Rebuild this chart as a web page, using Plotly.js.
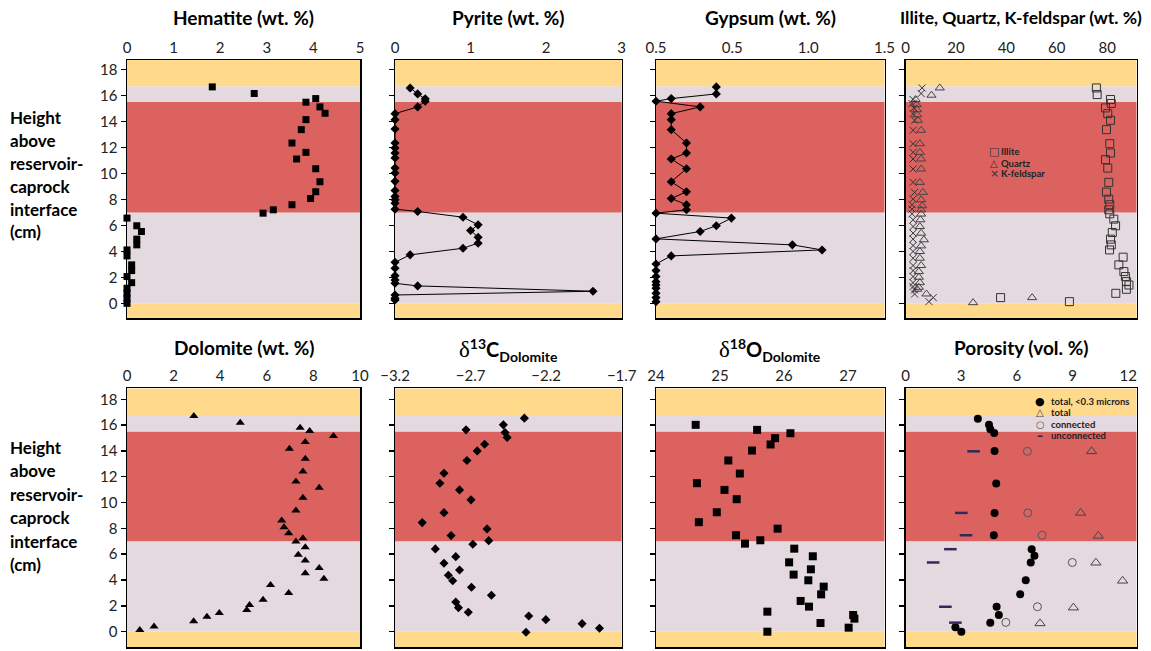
<!DOCTYPE html>
<html><head><meta charset="utf-8">
<script src="https://cdn.plot.ly/plotly-3.0.1.min.js"></script>
<style>html,body{margin:0;padding:0;background:#fff}#chart{width:1151px;height:651px}</style>
</head><body><div id="chart"></div>
<script>
// ---------------- data ----------------
const hemX = [1.83,2.73,4.05,3.84,4.14,4.25,3.84,3.74,3.54,3.84,3.64,4.05,4.14,4.05,3.94,3.54,3.14,2.92,0.0,0.21,0.31,0.21,0.21,0.0,0.0,0.1,0.1,0.0,0.1,0.0,0.0,0.0,0.0];
const hemY = [16.66,16.15,15.76,15.48,15.12,14.63,14.14,13.37,12.34,11.62,11.11,10.36,9.36,8.59,8.07,7.59,7.2,6.94,6.56,5.97,5.53,4.94,4.5,4.11,3.65,2.96,2.52,2.06,1.59,1.16,0.77,0.39,0.0];

const pyrX = [0.2,0.3,0.4,0.4,0.3, 0,0,0,0,0,0,0,0,0,0,0,0,0,0,0, 0.3,0.9,1.1,1.0,1.1,1.1,0.9,0.2, 0,0,0,0,0, 0.3,2.62, 0,0,0];
const pyrY = [16.58,16.12,15.74,15.56,15.12,14.6,14.14,13.42,12.34,11.96,11.57,11.19,10.41,10.03,9.39,8.69,8.23,7.97,7.71,7.25,7.07,6.63,6.04,5.61,5.09,4.63,4.24,3.73,3.16,2.7,2.13,1.8,1.54,1.34,0.93,0.64,0.39,0.26];

const gypX = [0.396,0.396,0.1,0,0.29,0.1,0.1,0.1,0.2,0.2,0.1,0.2,0.1,0.2,0.1,0.2,0.2,0,0.495,0.396,0.29,0,0.895,1.09,0.1,0,0,0,0,0,0,0,0,0];
const gypY = [16.66,16.12,15.76,15.56,15.12,14.6,14.14,13.37,12.34,11.57,11.11,10.36,9.36,8.59,8.07,7.59,7.2,6.94,6.56,5.97,5.53,4.96,4.5,4.11,3.65,3.03,2.52,2.06,1.67,1.41,1.16,0.77,0.44,0.13];

const illX = [75.7,76.0,81.3,81.6,79.3,80.2,81.3,79.7,81.0,81.3,79.3,80.2,80.6,79.7,80.6,81.0,80.6,81.0,82.6,83.3,82.0,81.3,81.6,80.9,86.3,84.6,86.6,87.2,87.6,88.6,87.6,83.4,37.7,65.0];
const illY = [16.58,16.07,15.69,15.38,15.04,14.6,14.09,13.37,12.29,11.57,11.06,10.41,9.31,8.56,8.02,7.59,7.2,6.89,6.48,5.97,5.45,4.94,4.5,4.11,3.55,2.96,2.44,2.06,1.67,1.41,1.08,0.77,0.44,0.13];
const qtzX = [13.6,10.3,4.0,4.4,4.6,4.6,4.9,6.2,5.7,5.7,6.2,6.2,5.7,6.9,6.2,6.6,6.2,6.2,5.9,5.7,6.2,7.3,6.2,5.7,5.7,6.2,5.3,5.3,5.7,5.3,4.6,8.3,26.8,50.2];
const qtzY = [16.58,16.02,15.69,15.3,14.9,14.5,14.09,13.32,12.29,11.62,11.11,10.34,9.31,8.54,7.97,7.51,7.2,6.87,6.43,5.91,5.4,4.89,4.42,3.99,3.47,2.91,2.44,2.01,1.59,1.23,1.08,0.72,0.05,0.44];
const kfsX = [6.6,6.2,3.0,2.6,3.3,3.0,3.6,3.0,3.0,3.0,3.0,3.0,3.0,3.6,3.0,2.6,2.6,2.6,3.0,3.0,3.0,3.0,3.0,3.0,3.0,3.0,3.0,3.0,3.0,3.0,3.6,3.6,11.0,9.3];
const kfsY = [16.58,16.15,15.69,15.38,15.04,14.6,14.09,13.32,12.29,11.62,11.11,10.34,9.31,8.54,8.02,7.59,7.25,6.89,6.43,5.91,5.4,4.94,4.45,3.99,3.47,2.91,2.52,2.06,1.59,1.29,1.03,0.72,0.44,0.13];

const dolX = [2.87,4.86,7.43,7.84,8.86,7.65,6.97,7.65,7.55,7.25,8.25,7.55,7.25,6.64,6.74,6.94,7.55,7.25,7.65,7.35,7.65,8.25,7.65,8.45,6.16,6.94,5.84,5.26,5.14,3.96,3.43,2.86,1.16,0.55];
const dolY = [16.7,16.19,15.8,15.54,15.15,14.69,14.17,13.4,12.41,11.64,11.15,10.37,9.39,8.61,8.09,7.63,7.24,6.98,6.54,5.95,5.51,4.94,4.53,4.09,3.62,3.0,2.48,2.07,1.68,1.45,1.16,0.8,0.41,0.13];

const c13X = [-2.344,-2.483,-2.73,-2.472,-2.458,-2.607,-2.656,-2.724,-2.876,-2.903,-2.773,-2.697,-2.876,-3.02,-2.591,-2.829,-2.58,-2.685,-2.933,-2.798,-2.876,-2.773,-2.847,-2.818,-2.694,-2.562,-2.798,-2.78,-2.715,-2.315,-2.202,-1.962,-1.847,-2.333];
const c13Y = [16.54,16.02,15.63,15.43,15.04,14.52,14.0,13.26,12.27,11.5,10.98,10.21,9.22,8.45,7.96,7.44,7.05,6.77,6.41,5.81,5.3,4.78,4.37,3.95,3.44,2.82,2.3,1.86,1.5,1.21,0.93,0.62,0.26,-0.05];

const o18X = [24.62,25.58,26.1,25.86,25.79,25.5,25.13,25.31,24.64,25.07,25.26,24.95,24.67,25.9,25.25,25.63,25.39,26.16,26.45,26.08,26.42,26.15,26.38,26.62,26.58,26.26,26.39,25.74,27.08,27.1,26.57,27.01,25.74];
const o18Y = [16.02,15.63,15.37,14.99,14.5,14.03,13.26,12.25,11.5,10.98,10.26,9.25,8.48,7.98,7.47,7.08,6.82,6.43,5.84,5.37,4.83,4.42,3.98,3.49,2.89,2.38,1.94,1.55,1.29,1.01,0.67,0.31,0.0];

const porFineX = [3.9,4.5,4.57,4.78,4.8,4.89,4.8,4.76,6.8,6.95,6.75,6.48,6.18,4.91,5.03,4.57,2.69,3.01];
const porFineY = [16.49,16.03,15.67,15.39,13.99,11.47,9.2,7.47,6.39,5.88,5.36,3.99,2.89,1.93,1.29,0.7,0.34,0.0];
const porTotalX = [10.03,9.44,10.39,10.26,11.7,9.05,7.25];
const porTotalY = [13.97,9.2,7.42,5.34,3.94,1.86,0.64];
const porConnX = [6.57,6.59,7.36,8.99,7.11,5.41];
const porConnY = [13.97,9.2,7.47,5.36,1.93,0.72];
const porUnconnX = [3.67,3.01,3.26,2.42,1.49,2.15,2.69];
const porUnconnY = [13.97,9.2,7.47,6.39,5.36,1.93,0.7];

// zone boundaries (cm) and tick labels
const zoneEdges = [0, 7, 15.5, 16.7];
const yTicks = [0,2,4,6,8,10,12,14,16,18];
const hemTicks = [0,1,2,3,4,5];
const pyrTicks = [0,1,2,3];
const gypTicks = [0,0.5,1.0,1.5];
const gypTickText = ["0.5","0.5","1.0","1.5"];
const illTicks = [0,20,40,60,80];
const dolTicks = [0,2,4,6,8,10];
const c13Ticks = [-3.2,-2.7,-2.2,-1.7];
const o18Ticks = [24,25,26,27];
const porTicks = [0,3,6,9,12];

const DELTA = '<span style="font-family:\'Liberation Serif\',serif;font-size:23px">δ</span>';
const panelTitles = [
  '<b>Hematite (wt. %)</b>', '<b>Pyrite (wt. %)</b>', '<b>Gypsum (wt. %)</b>', '<b>Illite, Quartz, K-feldspar (wt. %)</b>',
  '<b>Dolomite (wt. %)</b>',
  DELTA + '<sup><b>13</b></sup><b>C</b><sub><b>Dolomite</b></sub>',
  DELTA + '<sup><b>18</b></sup><b>O</b><sub><b>Dolomite</b></sub>',
  '<b>Porosity (vol. %)</b>'
];
const titleSizes = [19,19,19,17.5,19,20,20,19];
const yLabelLines = ['Height','above','reservoir-','caprock','interface','(cm)'];

// ---------------- layout config ----------------
const W = 1151, H = 651;
const FONT = 'Lato, "Open Sans", sans-serif';
const colPx = [[127,360],[395,621.7],[656,884.5],[905.5,1136.5]];
const rowPx = [[60,318],[388.3,647.3]];
const yRanges = [[-1.13,18.73],[-1.21,18.85]];
const xRanges = [[0,5],[0,3],[0,1.5],[0,91.6],[0,10],[-3.2,-1.7],[24,27.57],[0,12.45]];
const xTickVals = [hemTicks,pyrTicks,gypTicks,illTicks,dolTicks,c13Ticks,o18Ticks,porTicks];
const xTickText = [null,null,gypTickText,null,null,null,null,null];
const YELLOW = '#FFD98C', GREY = '#E3D9DF', RED = '#DC6260';

const layout = {
  width: W, height: H, margin: {l:0,r:0,t:0,b:0},
  paper_bgcolor: '#fff', plot_bgcolor: 'rgba(0,0,0,0)',
  showlegend: false, font: {family: FONT, color: '#222'},
  shapes: [], annotations: []
};

for (let i = 0; i < 8; i++) {
  const row = i < 4 ? 0 : 1, col = i % 4;
  const sfx = i === 0 ? '' : String(i + 1);
  const yr = yRanges[row];
  const xa = {
    domain: [colPx[col][0]/W, colPx[col][1]/W], range: xRanges[i], side: 'top',
    anchor: 'y' + sfx, showline: true, mirror: true, linecolor: '#000', linewidth: 1.5,
    ticks: '', showgrid: false, zeroline: false, tickvals: xTickVals[i],
    tickfont: {size: 15, color: '#222', family: FONT}, fixedrange: true
  };
  if (xTickText[i]) xa.ticktext = xTickText[i];
  const ya = {
    domain: [1 - rowPx[row][1]/H, 1 - rowPx[row][0]/H], range: yr, anchor: 'x' + sfx,
    showline: true, mirror: true, linecolor: '#000', linewidth: 1.5,
    ticks: 'outside', ticklen: 5, tickwidth: 1.5, tickcolor: '#000',
    tickvals: yTicks, showticklabels: col === 0, showgrid: false, zeroline: false,
    tickfont: {size: 15, color: '#222', family: FONT}, fixedrange: true
  };
  layout['xaxis' + sfx] = xa;
  layout['yaxis' + sfx] = ya;

  const bands = [
    [yr[0], zoneEdges[0], YELLOW], [zoneEdges[0], zoneEdges[1], GREY],
    [zoneEdges[1], zoneEdges[2], RED], [zoneEdges[2], zoneEdges[3], GREY],
    [zoneEdges[3], yr[1], YELLOW]
  ];
  bands.forEach(b => layout.shapes.push({
    type: 'rect', xref: 'x' + sfx + ' domain', yref: 'y' + sfx, x0: 0, x1: 1, y0: b[0], y1: b[1],
    fillcolor: b[2], line: {width: 0}, layer: 'below'
  }));

  const cx = (colPx[col][0] + colPx[col][1]) / 2 / W;
  const ty = row === 0 ? 18 : (i === 5 || i === 6 ? 350 : 347);
  layout.annotations.push({
    xref: 'paper', yref: 'paper', x: cx, y: 1 - ty / H, xanchor: 'center', yanchor: 'middle',
    text: panelTitles[i], showarrow: false, font: {size: titleSizes[i], color: '#000', family: FONT}
  });
}

// y axis label (both rows)
[[117, 23], [447, 23.5]].forEach(([y0, dy]) => {
  yLabelLines.forEach((t, k) => layout.annotations.push({
    xref: 'paper', yref: 'paper', x: 8 / W, y: 1 - (y0 + k * dy) / H, xanchor: 'left', yanchor: 'middle',
    text: '<b>' + t + '</b>', showarrow: false, font: {size: 17, color: '#000', family: FONT}
  }));
});

// in-plot keys
function keyItem(sym, symColor, symSize, label, xs, xt, ypx) {
  layout.annotations.push({xref:'paper', yref:'paper', x: xs/W, y: 1 - ypx/H, xanchor:'center', yanchor:'middle',
    text: sym, showarrow:false, font:{size: symSize, color: symColor, family:'DejaVu Sans'}});
  layout.annotations.push({xref:'paper', yref:'paper', x: xt/W, y: 1 - ypx/H, xanchor:'left', yanchor:'middle',
    text: '<b>' + label + '</b>', showarrow:false, font:{size: 9.5, color:'#222', family: FONT}});
}
keyItem('□', '#333', 11, 'Illite', 994, 999, 152);
keyItem('△', '#333', 10, 'Quartz', 994, 999, 163);
keyItem('×', '#333', 11, 'K-feldspar', 994, 999, 174);
keyItem('●', '#000', 11, 'total, &lt;0.3 microns', 1040, 1049, 401);
keyItem('△', '#444', 10, 'total', 1040, 1049, 412.3);
keyItem('○', '#555', 10, 'connected', 1040, 1049, 424);
keyItem('<b>–</b>', '#2f2a5e', 12, 'unconnected', 1040, 1049, 435.5);

// ---------------- traces ----------------
const base = {type: 'scatter', cliponaxis: false, hoverinfo: 'x+y'};
const traces = [
  Object.assign({}, base, {x: hemX, y: hemY, mode: 'markers', xaxis: 'x', yaxis: 'y',
    marker: {symbol: 'square', size: 7, color: '#000'}}),
  Object.assign({}, base, {x: pyrX, y: pyrY, mode: 'lines+markers', xaxis: 'x2', yaxis: 'y2',
    line: {color: '#000', width: 1}, marker: {symbol: 'diamond', size: 7, color: '#000'}}),
  Object.assign({}, base, {x: gypX, y: gypY, mode: 'lines+markers', xaxis: 'x3', yaxis: 'y3',
    line: {color: '#000', width: 1}, marker: {symbol: 'diamond', size: 7, color: '#000'}}),
  Object.assign({}, base, {x: illX, y: illY, mode: 'markers', xaxis: 'x4', yaxis: 'y4', name: 'Illite',
    marker: {symbol: 'square-open', size: 8, color: '#333', line: {width: 1}}}),
  Object.assign({}, base, {x: qtzX, y: qtzY, mode: 'markers', xaxis: 'x4', yaxis: 'y4', name: 'Quartz',
    marker: {symbol: 'triangle-up-open', size: 8, color: '#444', line: {width: 1}}}),
  Object.assign({}, base, {x: kfsX, y: kfsY, mode: 'markers', xaxis: 'x4', yaxis: 'y4', name: 'K-feldspar',
    marker: {symbol: 'x-thin-open', size: 7, color: '#333', line: {width: 1}}}),
  Object.assign({}, base, {x: dolX, y: dolY, mode: 'markers', xaxis: 'x5', yaxis: 'y5',
    marker: {symbol: 'triangle-up', size: 8, color: '#000'}}),
  Object.assign({}, base, {x: c13X, y: c13Y, mode: 'markers', xaxis: 'x6', yaxis: 'y6',
    marker: {symbol: 'diamond', size: 7, color: '#000'}}),
  Object.assign({}, base, {x: o18X, y: o18Y, mode: 'markers', xaxis: 'x7', yaxis: 'y7',
    marker: {symbol: 'square', size: 8, color: '#000'}}),
  Object.assign({}, base, {x: porFineX, y: porFineY, mode: 'markers', xaxis: 'x8', yaxis: 'y8', name: 'total, <0.3 microns',
    marker: {symbol: 'circle', size: 8, color: '#000'}}),
  Object.assign({}, base, {x: porTotalX, y: porTotalY, mode: 'markers', xaxis: 'x8', yaxis: 'y8', name: 'total',
    marker: {symbol: 'triangle-up-open', size: 9, color: '#444', line: {width: 1}}}),
  Object.assign({}, base, {x: porConnX, y: porConnY, mode: 'markers', xaxis: 'x8', yaxis: 'y8', name: 'connected',
    marker: {symbol: 'circle-open', size: 8, color: '#555', line: {width: 1}}}),
  Object.assign({}, base, {x: porUnconnX, y: porUnconnY, mode: 'markers', xaxis: 'x8', yaxis: 'y8', name: 'unconnected',
    marker: {symbol: 'line-ew-open', size: 9, color: '#2f2a5e', line: {width: 2.5, color: '#2f2a5e'}}})
];

Plotly.newPlot('chart', traces, layout, {displayModeBar: false, staticPlot: true});
</script>
</body></html>
